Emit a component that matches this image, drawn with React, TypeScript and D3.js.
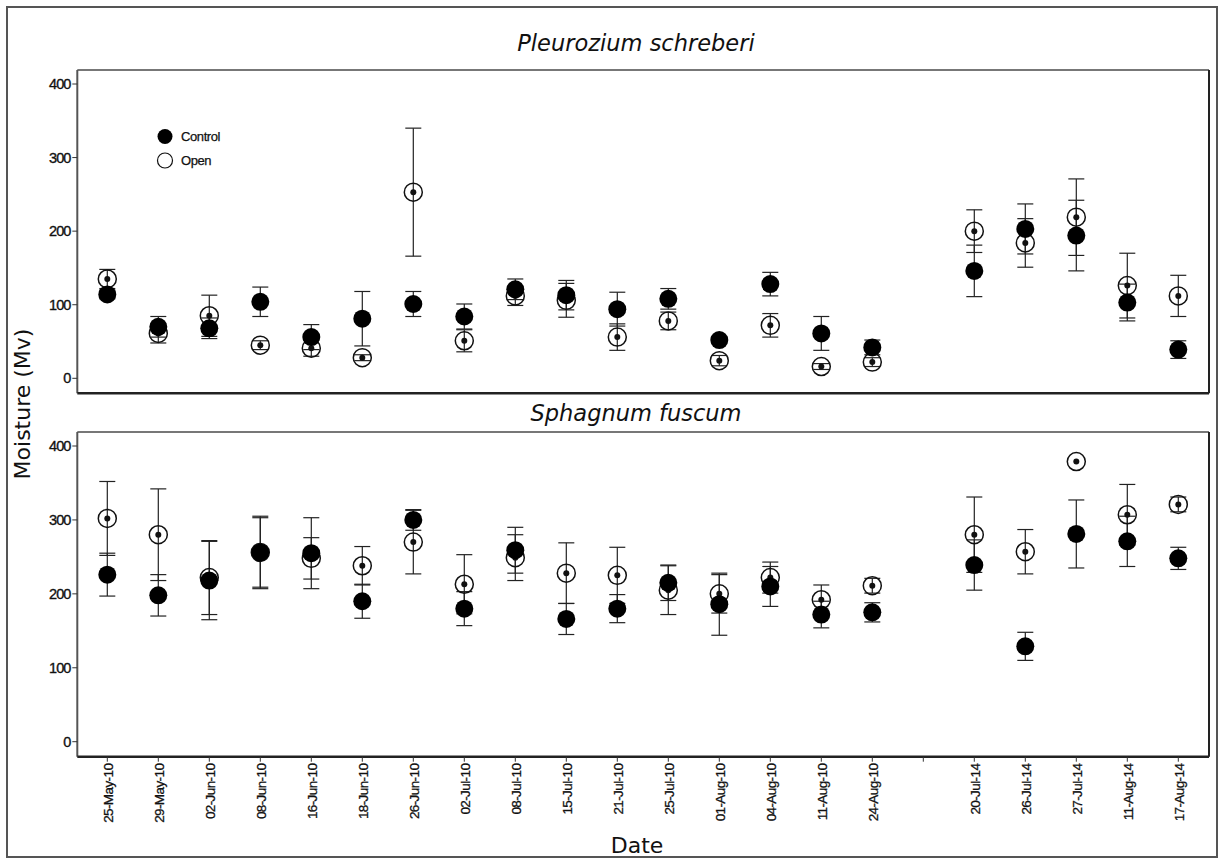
import React from "react";
import * as d3 from "d3";

const dates = [
  "25-May-10", "29-May-10", "02-Jun-10", "08-Jun-10", "16-Jun-10", "18-Jun-10",
  "26-Jun-10", "02-Jul-10", "08-Jul-10", "15-Jul-10", "21-Jul-10", "25-Jul-10",
  "01-Aug-10", "04-Aug-10", "11-Aug-10", "24-Aug-10", "", "20-Jul-14",
  "26-Jul-14", "27-Jul-14", "11-Aug-14", "17-Aug-14",
];

// Pleurozium schreberi
const pleuroControl = [114, 70, 68, 104, 56, 81, 101, 84, 121, 113, 94, 108, 52, 128, 61, 42, null, 146, 203, 194, 103, 39];
const pleuroControlErr = [6, 14, 14, 20, 17, 37, 17, 17, 14, 20, 23, 14, 5, 16, 23, 10, null, 35, 34, 48, 25, 12];
const pleuroOpen = [135, 61, 85, 45, 41, 28, 253, 51, 112, 106, 56, 78, 24, 72, 16, 22, null, 200, 184, 219, 126, 112];
const pleuroOpenErr = [13, 13, 28, 6, 11, 4, 87, 15, 13, 23, 18, 12, 7, 16, 4, 6, null, 29, 33, 52, 44, 28];

// Sphagnum fuscum
const sphagControl = [226, 198, 218, 256, 255, 190, 300, 180, 259, 166, 180, 215, 186, 210, 172, 175, null, 239, 129, 281, 271, 248];
const sphagControlErr = [29, 28, 53, 47, 48, 23, 14, 23, 31, 21, 19, 24, 42, 27, 18, 13, null, 34, 19, 46, 34, 15];
const sphagOpen = [302, 280, 222, 256, 248, 238, 270, 213, 249, 228, 225, 205, 200, 222, 192, 211, null, 280, 257, 379, 307, 321];
const sphagOpenErr = [50, 62, 50, 49, 28, 26, 43, 40, 31, 41, 38, 33, 26, 21, 20, 10, null, 51, 30, 0, 41, 10];

const yTicks = [0, 100, 200, 300, 400];

const panels = [
  {
    title: "Pleurozium schreberi",
    titleY: 51,
    top: 70, bottom: 393.3, y0: 378.3, y400: 84,
    control: pleuroControl, controlErr: pleuroControlErr,
    open: pleuroOpen, openErr: pleuroOpenErr,
    showX: false,
  },
  {
    title: "Sphagnum fuscum",
    titleY: 421,
    top: 432, bottom: 756.7, y0: 741.7, y400: 446,
    control: sphagControl, controlErr: sphagControlErr,
    open: sphagOpen, openErr: sphagOpenErr,
    showX: true,
  },
];

const LEFT = 77.3;
const RIGHT = 1209;
const R = 9;
const CAP = 8;
const tickFont = "'Liberation Sans', Arial, sans-serif";
const titleFont = "'DejaVu Sans', Verdana, sans-serif";

export default function App() {
  const x = d3
    .scalePoint<number>()
    .domain(d3.range(dates.length))
    .range([107.3, 1178.3]);

  return (
    <svg
      width={1218}
      height={859}
      style={{ position: "absolute", left: 0, top: 0, background: "#fff" }}
    >
      <rect x={0} y={0} width={1218} height={859} fill="#fff" />
      {/* outer frame */}
      <rect x={7} y={7} width={1210} height={850} fill="none" stroke="#555" strokeWidth={2} />

      {panels.map((p, pi) => {
        const y = d3.scaleLinear().domain([0, 400]).range([p.y0, p.y400]);
        const series = [
          { vals: p.open, errs: p.openErr, kind: "open" },
          { vals: p.control, errs: p.controlErr, kind: "control" },
        ];
        return (
          <g key={pi}>
            <text
              x={636}
              y={p.titleY}
              textAnchor="middle"
              fontFamily={titleFont}
              fontStyle="italic"
              fontSize={22.5}
              fill="#111"
            >
              {p.title}
            </text>
            {/* plot frame */}
            <line x1={LEFT} x2={RIGHT} y1={p.top} y2={p.top} stroke="#777" strokeWidth={2} />
            <line x1={LEFT} x2={LEFT} y1={p.top} y2={p.bottom} stroke="#555" strokeWidth={2} />
            <line x1={RIGHT} x2={RIGHT} y1={p.top} y2={p.bottom} stroke="#222" strokeWidth={2} />
            <line x1={LEFT} x2={RIGHT} y1={p.bottom} y2={p.bottom} stroke="#222" strokeWidth={2.5} />
            {/* y axis */}
            {yTicks.map((t) => (
              <g key={t}>
                <line x1={LEFT - 5} x2={LEFT} y1={y(t)} y2={y(t)} stroke="#333" strokeWidth={1} />
                <text
                  x={LEFT - 7}
                  y={y(t)}
                  dy="0.35em"
                  textAnchor="end"
                  fontFamily={tickFont}
                  fontSize={14.5}
                  letterSpacing={-1}
                  stroke="#111"
                  strokeWidth={0.35}
                  fill="#111"
                >
                  {t}
                </text>
              </g>
            ))}
            {/* x axis ticks / labels */}
            {p.showX &&
              dates.map((d, i) => (
                <g key={i}>
                  <line x1={x(i)} x2={x(i)} y1={p.bottom} y2={p.bottom + 5} stroke="#333" strokeWidth={1} />
                  {d && (
                    <text
                      transform={`translate(${x(i)! + 1},${p.bottom + 7}) rotate(-90)`}
                      dy="0.35em"
                      textAnchor="end"
                      fontFamily={tickFont}
                      fontSize={13.5}
                      letterSpacing={-0.6}
                      stroke="#111"
                      strokeWidth={0.3}
                      fill="#111"
                    >
                      {d}
                    </text>
                  )}
                </g>
              ))}
            {/* error bars */}
            {series.map((s) =>
              s.vals.map((v, i) => {
                const e = s.errs[i];
                if (v == null || e == null || e <= 0) return null;
                const cx = x(i)!;
                return (
                  <g key={s.kind + i} stroke="#222" strokeWidth={1.2}>
                    <line x1={cx} x2={cx} y1={y(v - e)} y2={y(v + e)} />
                    <line x1={cx - CAP} x2={cx + CAP} y1={y(v - e)} y2={y(v - e)} />
                    <line x1={cx - CAP} x2={cx + CAP} y1={y(v + e)} y2={y(v + e)} />
                  </g>
                );
              })
            )}
            {/* open markers */}
            {p.open.map((v, i) =>
              v == null ? null : (
                <g key={"o" + i}>
                  <circle cx={x(i)} cy={y(v)} r={R} fill="none" stroke="#111" strokeWidth={1.5} />
                  <circle cx={x(i)} cy={y(v)} r={3} fill="#111" />
                </g>
              )
            )}
            {/* control markers */}
            {p.control.map((v, i) =>
              v == null ? null : (
                <circle key={"c" + i} cx={x(i)} cy={y(v)} r={R} fill="#000" />
              )
            )}
          </g>
        );
      })}

      {/* legend */}
      <circle cx={165} cy={136.5} r={7.5} fill="#000" />
      <text x={181} y={141} fontFamily={tickFont} fontSize={13} letterSpacing={-0.4} stroke="#111" strokeWidth={0.25} fill="#111">
        Control
      </text>
      <circle cx={165} cy={160.5} r={7.5} fill="none" stroke="#111" strokeWidth={1.2} />
      <text x={181} y={165} fontFamily={tickFont} fontSize={13} letterSpacing={-0.4} stroke="#111" strokeWidth={0.25} fill="#111">
        Open
      </text>

      {/* axis titles */}
      <text
        transform="translate(30,404) rotate(-90)"
        textAnchor="middle"
        fontFamily={titleFont}
        fontSize={22}
        fill="#111"
      >
        Moisture (Mv)
      </text>
      <text x={637} y={853} textAnchor="middle" fontFamily={titleFont} fontSize={22} fill="#111">
        Date
      </text>
    </svg>
  );
}
